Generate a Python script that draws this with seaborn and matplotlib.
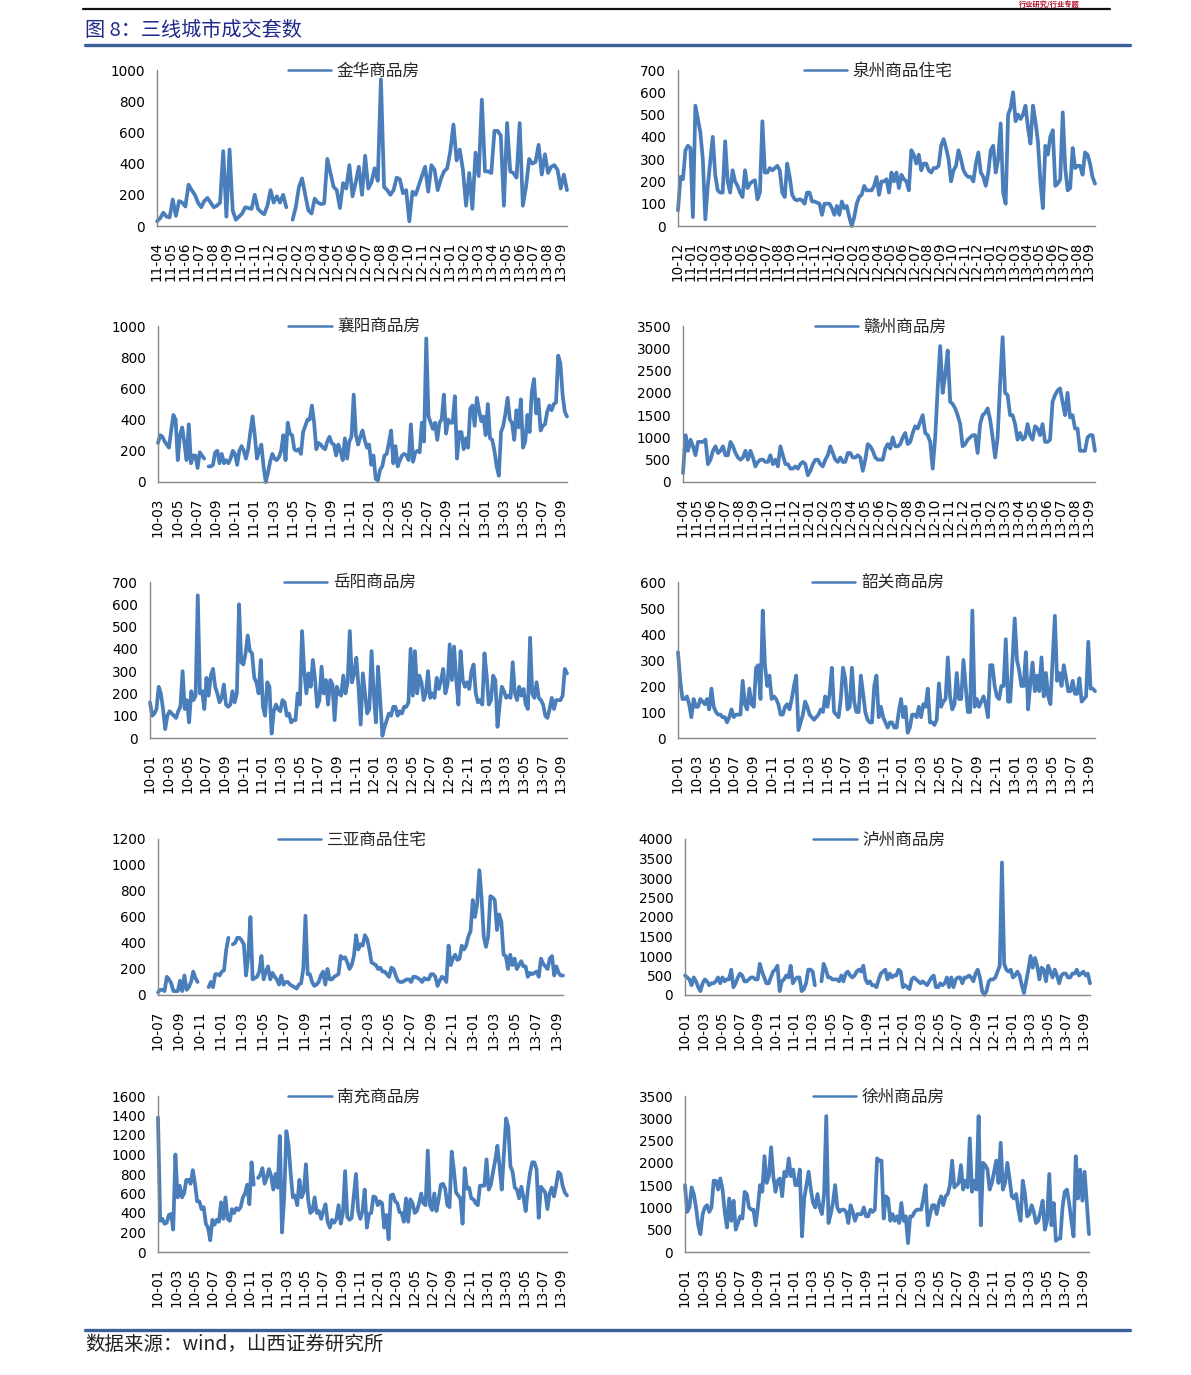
import numpy as np
import pandas as pd
import matplotlib
matplotlib.use('Agg')
import matplotlib.pyplot as plt
from matplotlib.lines import Line2D
import seaborn as sns

nan = np.nan

# ---------------- tick labels (month labels on the x axis) ----------------
m_1104 = ['11-04', '11-05', '11-06', '11-07', '11-08', '11-09', '11-10', '11-11', '11-12',
          '12-01', '12-02', '12-03', '12-04', '12-05', '12-06', '12-07', '12-08', '12-09',
          '12-10', '12-11', '12-12', '13-01', '13-02', '13-03', '13-04', '13-05', '13-06',
          '13-07', '13-08', '13-09']
m_1012 = ['10-12', '11-01', '11-02', '11-03', '11-04', '11-05', '11-06', '11-07', '11-08',
          '11-09', '11-10', '11-11', '11-12', '12-01', '12-02', '12-03', '12-04', '12-05',
          '12-06', '12-07', '12-08', '12-09', '12-10', '12-11', '12-12', '13-01', '13-02',
          '13-03', '13-04', '13-05', '13-06', '13-07', '13-08', '13-09']
bm_1003 = ['10-03', '10-05', '10-07', '10-09', '10-11', '11-01', '11-03', '11-05', '11-07',
           '11-09', '11-11', '12-01', '12-03', '12-05', '12-07', '12-09', '12-11', '13-01',
           '13-03', '13-05', '13-07', '13-09']
bm_1001 = ['10-01', '10-03', '10-05', '10-07', '10-09', '10-11', '11-01', '11-03', '11-05',
           '11-07', '11-09', '11-11', '12-01', '12-03', '12-05', '12-07', '12-09', '12-11',
           '13-01', '13-03', '13-05', '13-07', '13-09']
bm_1007 = ['10-07', '10-09', '10-11', '11-01', '11-03', '11-05', '11-07', '11-09', '11-11',
           '12-01', '12-03', '12-05', '12-07', '12-09', '12-11', '13-01', '13-03', '13-05',
           '13-07', '13-09']

# ---------------- weekly transaction counts ----------------
jinhua = [30, 50, 85, 60, 55, 170, 65, 160, 150, 125, 265, 230, 200, 150, 120, 160, 180, 150,
          120, 130, 150, 480, 60, 490, 100, 40, 60, 80, 120, 115, 110, 200, 110, 90, 75, 130,
          230, 150, 190, 150, 200, 120, nan, 40, 120, 250, 305, 200, 100, 80, 175, 150, 140,
          145, 430, 340, 250, 230, 115, 275, 240, 390, 190, 280, 380, 200, 450, 240, 280, 370,
          290, 940, 250, 230, 200, 230, 310, 300, 210, 230, 30, 220, 200, 260, 320, 380, 220,
          390, 360, 230, 300, 350, 370, 480, 650, 420, 490, 360, 130, 340, 110, 470, 320, 810,
          350, 350, 340, 610, 610, 580, 130, 660, 350, 340, 310, 660, 130, 250, 430, 400, 410,
          520, 330, 460, 340, 380, 390, 360, 240, 330, 230]

quanzhou = [70, 220, 210, 340, 360, 350, 40, 540, 480, 420, 300, 30, 180, 290, 400, 230, 160,
            150, 150, 380, 200, 150, 250, 200, 180, 150, 130, 250, 170, 190, 200, 205, 120, 150,
            470, 240, 240, 260, 250, 260, 270, 250, 150, 130, 280, 220, 140, 120, 115, 120, 115,
            100, 150, 150, 110, 110, 105, 100, 50, 100, 100, 100, 80, 50, 90, 50, 110, 80, 90,
            40, 0, 40, 100, 130, 140, 180, 160, 160, 160, 180, 220, 140, 200, 200, 210, 150, 240,
            200, 240, 170, 230, 210, 200, 160, 340, 320, 280, 320, 250, 280, 280, 250, 240, 260,
            260, 270, 360, 390, 350, 300, 200, 250, 270, 340, 300, 250, 230, 220, 220, 200, 280,
            330, 240, 220, 180, 240, 340, 360, 240, 300, 460, 150, 100, 500, 530, 600, 470, 500,
            480, 500, 540, 440, 370, 540, 470, 380, 200, 80, 360, 320, 400, 430, 180, 190, 210,
            510, 260, 160, 170, 350, 260, 270, 270, 230, 330, 320, 280, 220, 190]

xiangyang = [250, 300, 290, 260, 240, 220, 330, 430, 400, 140, 300, 350, 250, 140, 370, 120,
             170, 170, 90, 190, 170, 150, nan, 100, 100, 110, 190, 200, 120, 180, 120, 140, 120,
             150, 200, 180, 110, 200, 230, 200, 150, 210, 320, 420, 300, 150, 200, 240, 100, 0,
             60, 130, 180, 150, 140, 160, 200, 300, 140, 380, 310, 300, 210, 200, 210, 180, 320,
             360, 400, 400, 490, 380, 210, 250, 240, 220, 210, 260, 290, 250, 240, 170, 240, 200,
             140, 280, 150, 260, 290, 560, 300, 240, 290, 330, 270, 220, 240, 110, 170, 20, 10,
             80, 100, 170, 180, 250, 330, 120, 230, 100, 140, 170, 180, 170, 140, 370, 130, 190,
             200, 190, 380, 260, 920, 420, 380, 340, 380, 270, 380, 400, 560, 310, 400, 380, 380,
             550, 150, 320, 320, 210, 280, 220, 470, 490, 360, 540, 460, 390, 420, 300, 500, 280,
             270, 200, 100, 40, 320, 360, 440, 540, 400, 380, 270, 460, 350, 530, 220, 260, 430,
             320, 580, 660, 440, 530, 330, 360, 370, 450, 490, 460, 500, 510, 810, 760, 560, 450,
             420]

ganzhou = [200, 1050, 700, 950, 800, 600, 900, 900, 900, 950, 400, 500, 700, 800, 650, 700,
           800, 600, 600, 900, 800, 650, 550, 500, 550, 700, 500, 700, 550, 350, 450, 500, 500,
           450, 450, 600, 400, 500, 350, 800, 600, 400, 400, 300, 300, 350, 300, 400, 450, 400,
           150, 250, 400, 500, 500, 400, 350, 500, 600, 800, 650, 500, 450, 550, 450, 450, 650,
           650, 550, 550, 600, 550, 250, 500, 850, 800, 700, 550, 500, 500, 500, 750, 850, 750,
           1000, 800, 800, 850, 1000, 1100, 850, 900, 1100, 1250, 1200, 1350, 1500, 1100, 1050,
           900, 300, 1000, 2100, 3050, 2000, 2400, 2950, 1800, 1750, 1650, 1500, 1300, 800, 850,
           950, 1000, 1050, 1050, 650, 1300, 1500, 1550, 1650, 1400, 1000, 550, 1000, 2200,
           3250, 2000, 1950, 1500, 1500, 1300, 950, 1100, 950, 1000, 1300, 1050, 950, 1250,
           1200, 1050, 1300, 900, 900, 950, 1800, 1950, 2050, 2100, 1800, 1500, 2000, 1450,
           1500, 1200, 1200, 700, 700, 700, 1000, 1050, 1050, 700]

yueyang = [160, 100, 110, 130, 230, 200, 130, 40, 100, 120, 110, 100, 90, 120, 140, 300, 130,
           170, 70, 210, 170, 190, 640, 200, 210, 130, 270, 190, 280, 310, 230, 200, 160, 180,
           240, 150, 140, 150, 210, 160, 200, 600, 340, 330, 380, 460, 390, 380, 270, 250, 200,
           350, 140, 100, 250, 230, 20, 120, 150, 130, 120, 170, 160, 100, 110, 70, 80, 80, 200,
           150, 480, 300, 200, 290, 230, 350, 260, 140, 170, 320, 200, 260, 150, 260, 240, 80,
           230, 200, 190, 280, 200, 250, 480, 250, 290, 360, 230, 60, 290, 200, 110, 130, 390,
           200, 70, 320, 170, 10, 50, 80, 110, 100, 140, 140, 100, 120, 110, 140, 140, 160, 400,
           190, 390, 200, 280, 250, 170, 200, 300, 180, 200, 180, 270, 220, 260, 310, 200, 240,
           420, 260, 410, 260, 150, 390, 260, 230, 250, 220, 300, 330, 200, 160, 170, 150, 380,
           280, 150, 170, 280, 260, 50, 150, 230, 210, 180, 190, 180, 340, 200, 170, 230, 190,
           220, 150, 130, 450, 200, 180, 250, 180, 170, 150, 100, 90, 130, 180, 130, 170, 170,
           170, 190, 310, 290]

shaoguan = [330, 220, 150, 150, 160, 130, 80, 150, 120, 120, 150, 140, 130, 150, 110, 190, 120,
            100, 90, 90, 80, 80, 60, 80, 110, 80, 90, 90, 90, 220, 130, 110, 190, 130, 120, 270,
            280, 150, 490, 280, 200, 240, 150, 160, 150, 130, 90, 90, 120, 130, 110, 150, 200,
            240, 30, 60, 90, 140, 120, 90, 80, 70, 80, 90, 110, 100, 160, 120, 170, 270, 100, 90,
            80, 150, 270, 230, 110, 120, 270, 140, 100, 100, 240, 170, 100, 70, 60, 60, 200, 240,
            80, 120, 80, 60, 40, 60, 60, 40, 40, 100, 150, 80, 120, 20, 40, 90, 90, 80, 120, 80,
            130, 120, 190, 60, 60, 50, 70, 210, 120, 140, 150, 310, 160, 110, 130, 250, 150, 150,
            300, 200, 100, 100, 490, 120, 150, 120, 140, 160, 130, 80, 280, 280, 200, 160, 150,
            200, 200, 380, 140, 140, 300, 460, 300, 260, 200, 200, 330, 110, 210, 290, 180, 240,
            180, 310, 160, 250, 160, 130, 300, 470, 220, 250, 200, 280, 230, 180, 180, 220, 170,
            170, 230, 140, 150, 160, 370, 190, 190, 180]

sanya = [20, 40, 40, 30, 140, 120, 90, 30, 30, 30, 110, 30, 150, 40, 60, 100, 180, 130, 100,
         nan, nan, nan, nan, 60, 100, 60, 160, 160, 150, 180, 190, 350, 440, nan, 390, 400, 440,
         440, 420, 390, 150, 300, 600, 120, 130, 140, 180, 300, 120, 180, 220, 120, 170, 140,
         120, 80, 150, 80, 100, 100, 80, 70, 60, 50, 80, 90, 200, 610, 160, 160, 100, 70, 80,
         100, 150, 180, 80, 200, 120, 120, 140, 150, 160, 300, 280, 290, 250, 200, 230, 300,
         460, 350, 390, 380, 460, 430, 350, 250, 240, 230, 200, 210, 180, 180, 160, 140, 210,
         200, 150, 110, 100, 100, 110, 120, 120, 100, 140, 140, 130, 120, 100, 130, 120, 120,
         160, 160, 140, 70, 110, 140, 130, 100, 380, 230, 280, 310, 270, 280, 380, 350, 380,
         450, 490, 730, 600, 700, 960, 750, 450, 370, 450, 760, 750, 730, 500, 620, 560, 310,
         300, 200, 310, 230, 280, 200, 230, 260, 220, 220, 140, 170, 160, 170, 180, 140, 280,
         240, 220, 200, 280, 300, 150, 220, 170, 150, 150]

luzhou = [500, 450, 400, 250, 450, 350, 200, 100, 300, 400, 350, 250, 300, 300, 350, 450, 300,
          450, 350, 400, 400, 650, 200, 300, 450, 550, 500, 350, 350, 400, 450, 450, 400, 400,
          800, 600, 450, 300, 300, 450, 600, 650, 750, 100, 350, 400, 500, 450, 750, 300, 400,
          450, 450, 100, 150, 300, 650, 650, 600, 250, nan, nan, 350, 800, 650, 450, 450, 400,
          400, 400, 350, 500, 350, 550, 600, 500, 450, 500, 600, 650, 600, 750, 400, 300, 350,
          250, 250, 200, 400, 550, 600, 650, 400, 550, 450, 500, 500, 650, 600, 200, 250, 200,
          150, 400, 450, 400, 350, 300, 350, 300, 250, 350, 450, 500, 200, 200, 300, 250, 300,
          450, 200, 450, 200, 400, 450, 450, 300, 450, 450, 500, 450, 350, 550, 650, 450, 100,
          0, 100, 350, 400, 400, 450, 600, 750, 3400, 800, 650, 600, 650, 450, 500, 600, 500,
          250, 50, 350, 650, 1000, 700, 950, 750, 400, 700, 650, 350, 750, 600, 450, 650, 500,
          300, 500, 550, 550, 450, 450, 550, 550, 650, 500, 550, 600, 500, 550, 300]

nanchong = [1380, 320, 340, 290, 300, 380, 390, 230, 1000, 560, 680, 560, 600, 740, 740, 700,
            840, 700, 520, 520, 440, 460, 290, 250, 120, 330, 280, 330, 310, 510, 340, 560, 340,
            320, 440, 400, 450, 430, 460, 560, 600, 690, 490, 920, 690, nan, 760, 790, 860, 700,
            760, 850, 780, 640, 800, 660, 1190, 200, 560, 1240, 1100, 800, 560, 580, 480, 740,
            560, 620, 900, 540, 400, 420, 560, 400, 420, 340, 420, 490, 310, 250, 330, 300, 340,
            480, 290, 400, 830, 360, 330, 350, 580, 800, 420, 340, 420, 640, 250, 390, 400, 570,
            560, 480, 520, 500, 250, 380, 130, 580, 590, 520, 500, 410, 400, 310, 550, 310, 540,
            500, 400, 420, 500, 600, 500, 480, 1040, 480, 430, 600, 420, 540, 690, 700, 650, 480,
            460, 1030, 840, 610, 580, 550, 290, 860, 650, 660, 550, 540, 500, 480, 680, 680, 680,
            950, 640, 690, 820, 940, 1090, 880, 640, 1000, 1370, 1280, 880, 820, 660, 640, 550,
            670, 560, 420, 640, 810, 920, 920, 850, 350, 670, 640, 610, 440, 600, 660, 570, 680,
            820, 800, 680, 610, 580]

xuzhou = [1500, 900, 1000, 1450, 1300, 1000, 600, 400, 850, 1000, 1050, 900, 1000, 1600, 1600,
          1400, 1650, 1400, 900, 550, 1200, 700, 1150, 500, 650, 800, 750, 1350, 1300, 1000, 950,
          950, 600, 1000, 1500, 1350, 2150, 1550, 1700, 2350, 1700, 1350, 1600, 1650, 1250, 1800,
          1700, 2100, 1700, 1850, 1500, 1500, 1850, 350, 1200, 1500, 1800, 1400, 1100, 1000, 1300,
          1000, 850, 1300, 3050, 650, 850, 1100, 1500, 1000, 900, 950, 950, 900, 650, 1050, 900,
          700, 850, 850, 850, 1000, 800, 800, 950, 900, 950, 2100, 2050, 2050, 750, 1250, 1200,
          700, 850, 700, 800, 650, 1100, 700, 800, 200, 800, 800, 900, 950, 950, 950, 1200, 1500,
          600, 850, 1050, 1050, 850, 1100, 1250, 1050, 1250, 1300, 1500, 2050, 1450, 1500, 1550,
          1950, 1400, 1600, 1450, 2550, 1350, 1600, 1400, 3050, 600, 2000, 1950, 1850, 1400, 1550,
          1800, 2050, 1550, 2450, 1400, 1550, 2000, 1650, 1250, 1200, 1300, 950, 700, 1600, 1300,
          800, 850, 1050, 900, 650, 700, 900, 1150, 500, 700, 1750, 600, 1100, 250, 300, 300,
          1000, 1350, 1400, 1100, 700, 350, 2150, 1200, 1850, 1150, 1800, 1100, 400]

city_names = ['金华商品房', '泉州商品住宅', '襄阳商品房', '赣州商品房', '岳阳商品房',
              '韶关商品房', '三亚商品住宅', '泸州商品房', '南充商品房', '徐州商品房']
city_series = [jinhua, quanzhou, xiangyang, ganzhou, yueyang,
               shaoguan, sanya, luzhou, nanchong, xuzhou]
city_ticks = [m_1104, m_1012, bm_1003, m_1104, bm_1001,
              bm_1001, bm_1007, bm_1001, bm_1001, bm_1001]
y_max = [1000, 700, 1000, 3500, 700, 600, 1200, 4000, 1600, 3500]
y_step = [200, 100, 200, 500, 100, 100, 200, 500, 200, 500]

# ---------------- style ----------------
sns.set_style('white')
plt.rcParams['font.family'] = ['DejaVu Sans', 'Noto Sans CJK SC']
CJK = ['Noto Sans CJK SC', 'DejaVu Sans']
LINE = '#4a7ebb'
GREY = '#868686'
W, H = 1191, 1375

# axes box of each panel in pixels: (left, right)
panel_x = [(157, 567), (678, 1095), (158, 567), (683, 1095), (150, 567),
           (678, 1095), (158, 563), (685, 1090), (158, 567), (685, 1089)]
row_y = [(70, 226), (326, 482), (582, 738), (839, 995), (1096, 1252)]

fig = plt.figure(figsize=(W / 100, H / 100), dpi=100)


def draw_panel(ax, name, vals, labels, ymax, ystep):
    df = pd.DataFrame({'week': np.arange(len(vals)), 'n': vals})
    df['seg'] = df['n'].isna().cumsum()
    df = df.dropna()
    for _, seg in df.groupby('seg'):
        sns.lineplot(data=seg, x='week', y='n', ax=ax, color=LINE, lw=2.7,
                     legend=False, clip_on=False)
    ax.lines[0].set_label(name)
    ax.set_xlabel('')
    ax.set_ylabel('')
    ax.set_xlim(0, len(vals) - 1)
    ax.set_ylim(0, ymax)
    ax.set_yticks(np.arange(0, ymax + 1, ystep))
    ticks = np.linspace(0, 0.985 * (len(vals) - 1), len(labels))
    ax.set_xticks(ticks)
    ax.set_xticklabels(labels, rotation=90)
    for s in ['top', 'right']:
        ax.spines[s].set_visible(False)
    for s in ['left', 'bottom']:
        ax.spines[s].set_color(GREY)
        ax.spines[s].set_linewidth(1)
    ax.tick_params(axis='both', direction='out', length=3.5, width=0.8, color=GREY,
                   labelsize=9.8, labelcolor='black')
    ax.tick_params(axis='x', pad=8)
    ax.tick_params(axis='y', pad=5)
    leg = ax.legend(loc='center', bbox_to_anchor=(0.48, 0.99), frameon=False,
                    handlelength=2.6, handletextpad=0.35,
                    prop={'family': CJK, 'size': 12})
    leg.get_lines()[0].set_linewidth(1.8)


for i, name in enumerate(city_names):
    r = i // 2
    x0, x1 = panel_x[i]
    y0, y1 = row_y[r]
    ax = fig.add_axes([x0 / W, 1 - y1 / H, (x1 - x0) / W, (y1 - y0) / H])
    draw_panel(ax, name, city_series[i], city_ticks[i], y_max[i], y_step[i])

# ---------------- header / footer ----------------
def hline(y, x0, x1, color, lw):
    fig.add_artist(Line2D([x0 / W, x1 / W], [1 - y / H, 1 - y / H],
                          transform=fig.transFigure, color=color, lw=lw))


hline(9, 83, 1110, '#111111', 1.6)
# small red page-header text in the strip above the top rule
fig.text(1080 / W, 1 - 0.5 / H, '行业研究/行业专题', ha='right', va='top',
         color='#b0102a', fontsize=5.2, fontweight='bold', family=CJK)
fig.text(85 / W, 1 - 31 / H, '图 8：三线城市成交套数', ha='left', va='center',
         color='#1f2a8a', fontsize=14.5, family=CJK)
hline(45, 85, 1130, '#3a5f9a', 2.4)
hline(1330, 85, 1130, '#3a5f9a', 2.4)
fig.text(85 / W, 1 - 1344 / H, '数据来源：wind，山西证券研究所', ha='left', va='center',
         color='#222222', fontsize=14, family=CJK)

plt.savefig('out.png', dpi=100)
